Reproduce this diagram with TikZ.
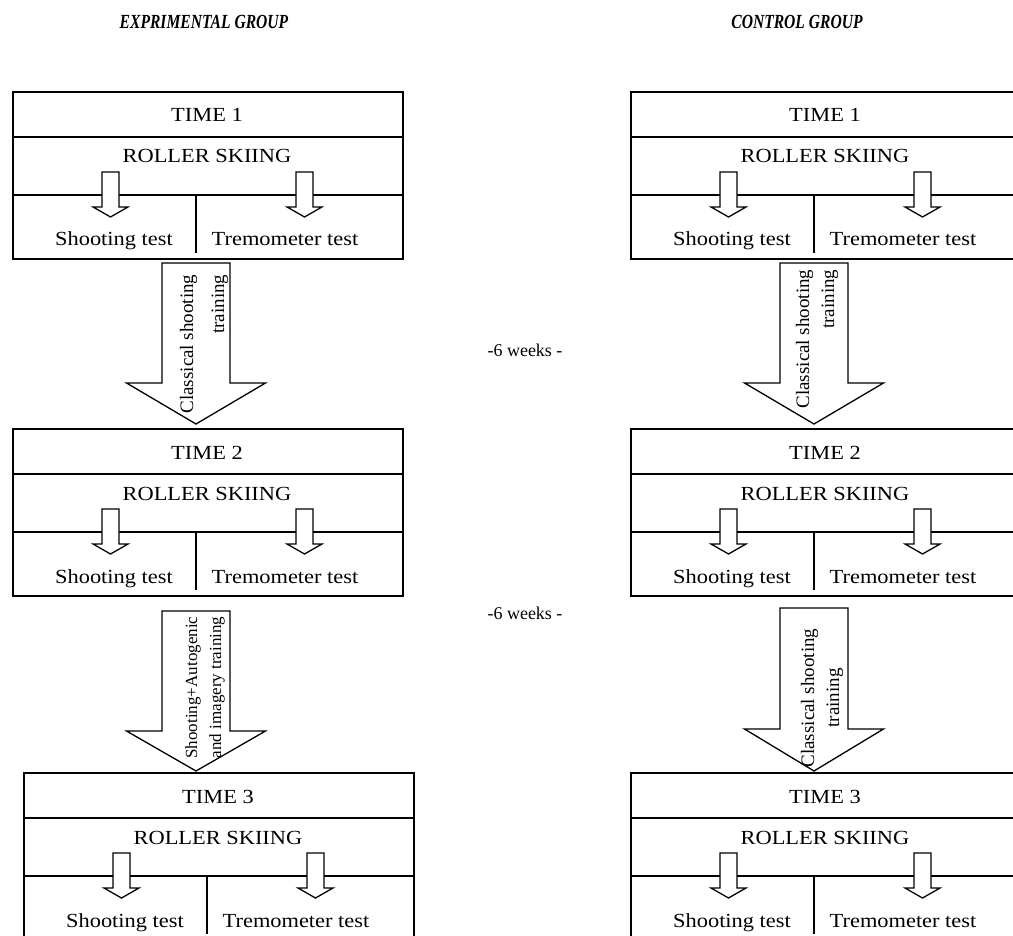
\documentclass[tikz,border=0pt]{standalone}
\usepackage{fontspec}
\setmainfont{Liberation Serif}
\newfontfamily\boxfont[FakeStretch=1.12]{Liberation Serif}
\newfontfamily\rotfont{Liberation Serif}
\newfontfamily\titlefont[FakeStretch=0.78]{Liberation Serif}
\newcommand\smallarrow[1]{%
  \draw[fill=white] (#1-8.5,80) -- (#1+8.5,80) -- (#1+8.5,115) -- (#1+17.5,115)
    -- (#1,125) -- (#1-17.5,115) -- (#1-8.5,115) -- cycle;}
\newcommand\tblock[4]{%
  \begin{scope}[shift={(#2,#3)}]
    \draw (0,0) rectangle (390,167);
    \draw (0,45) -- (390,45) (0,103) -- (390,103) (183,103) -- (183,161);
    \node[boxtxt] (#1-time) at (194,30) {TIME #4};
    \node[boxtxt] (#1-rs) at (194,71) {ROLLER SKIING};
    \node[boxtxt] (#1-sh) at (101,154) {Shooting test};
    \node[boxtxt] (#1-tr) at (272,154) {Tremometer test};
    \smallarrow{97.5}
    \smallarrow{291.5}
  \end{scope}}
\newcommand\bigarrow[4]{%
  \draw[fill=white] (#1-34,#2) -- (#1+34,#2) -- (#1+34,#3) -- (#1+69.5,#3)
    -- (#1,#4) -- (#1-69.5,#3) -- (#1-34,#3) -- cycle;}
\begin{document}
\begin{tikzpicture}[x=1pt,y=-1pt,line width=1.3pt,
  boxtxt/.style={font=\boxfont\fontsize{20}{24}\selectfont, anchor=base, inner sep=0pt},
  rottxt/.style={font=\rotfont\fontsize{19}{31}\selectfont, rotate=90, align=right, anchor=east, inner sep=0pt},
  rotsmall/.style={font=\rotfont\fontsize{17}{24}\selectfont, rotate=90, align=right, anchor=east, inner sep=0pt},
  weeks/.style={font=\rotfont\fontsize{18}{22}\selectfont, anchor=base, inner sep=0pt},
  title/.style={font=\titlefont\bfseries\itshape\fontsize{20}{22}\selectfont, inner sep=0pt}]
\useasboundingbox (0,0) rectangle (1013,936);
\node[title] (tE) at (204,22) {EXPRIMENTAL GROUP};
\node[title] (tC) at (797,22) {CONTROL GROUP};
% experimental group
\tblock{e1}{13}{92}{1}
\tblock{e2}{13}{429}{2}
\tblock{e3}{24}{773}{3}
\bigarrow{196}{263}{383}{424}
\node[rottxt] (ea1) at (204,274) {Classical shooting\\training};
\bigarrow{196}{611}{731}{771}
\node[rotsmall] (ea2) at (205,616) {Shooting+Autogenic\\and imagery training};
% control group
\tblock{c1}{631}{92}{1}
\tblock{c2}{631}{429}{2}
\tblock{c3}{631}{773}{3}
\bigarrow{814}{263}{383}{424}
\node[rottxt, font=\rotfont\fontsize{19}{25}\selectfont] (ca1) at (817,269) {Classical shooting\\training};
\bigarrow{814}{608}{729}{771}
\node[rottxt, font=\rotfont\fontsize{19}{25}\selectfont, align=center, anchor=center] (ca2) at (822,698) {Classical shooting\\training};
% weeks
\node[weeks] (w1) at (525,356) {-6 weeks -};
\node[weeks] (w2) at (525,619) {-6 weeks -};
\end{tikzpicture}
\end{document}
